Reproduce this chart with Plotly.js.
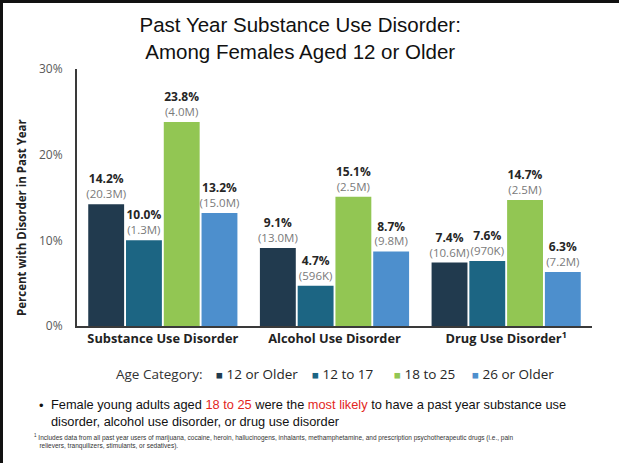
<!DOCTYPE html>
<html>
<head>
<meta charset="utf-8">
<script src="https://cdn.plot.ly/plotly-3.0.1.min.js"></script>
<style>
  html, body { margin: 0; padding: 0; background: #fff; }
  #frame { position: relative; width: 619px; height: 463px; box-sizing: border-box;
           border-top: 3px solid #111; border-left: 3px solid #111; overflow: hidden; }
  #chart { position: absolute; left: -3px; top: -3px; width: 619px; height: 463px; }
</style>
</head>
<body>
<div id="frame"><div id="chart"></div></div>
<script>
// Disorder categories along the x axis
const categories = ['Substance Use Disorder', 'Alcohol Use Disorder', 'Drug Use Disorder<sup>1</sup>'];

// Age groups (one bar series each)
const ageGroups = ['12 or Older', '12 to 17', '18 to 25', '26 or Older'];
const groupColors = ['#213a4e', '#1c6583', '#92c653', '#4d8fcd'];

// Percent with disorder in past year, per age group, per category
const pct12OrOlder = [14.2, 9.1, 7.4];
const pct12to17    = [10.0, 4.7, 7.6];
const pct18to25    = [23.8, 15.1, 14.7];
const pct26OrOlder = [13.2, 8.7, 6.3];

// Estimated number of people, per age group, per category
const count12OrOlder = ['20.3M', '13.0M', '10.6M'];
const count12to17    = ['1.3M', '596K', '970K'];
const count18to25    = ['4.0M', '2.5M', '2.5M'];
const count26OrOlder = ['15.0M', '9.8M', '7.2M'];

// Y-axis ticks
const yTickVals = [0, 10, 20, 30];
const yTickText = ['0%', '10%', '20%', '30%'];

const pctSeries = [pct12OrOlder, pct12to17, pct18to25, pct26OrOlder];
const countSeries = [count12OrOlder, count12to17, count18to25, count26OrOlder];

const FONT = 'Open Sans, Liberation Sans, sans-serif';
const SLIDE_FONT = 'Liberation Sans, Arial, sans-serif';

// plot-area box in pixels, used to place the page annotations
const M = { l: 77, r: 27, t: 69, b: 137 };
const W = 619, H = 463;
const PW = W - M.l - M.r, PH = H - M.t - M.b;
const px = x => (x - M.l) / PW;          // pixel x -> paper x
const py = y => (H - M.b - y) / PH;      // pixel y -> paper y

const traces = ageGroups.map((name, i) => ({
  type: 'bar',
  name: name,
  x: categories,
  y: pctSeries[i],
  text: pctSeries[i].map((v, j) =>
    '<b style="font-size:12px">' + v.toFixed(1) + '%</b><br><span style="color:#7a7a7a">(' + countSeries[i][j] + ')</span>'),
  textposition: 'outside',
  constraintext: 'none',
  cliponaxis: false,
  textfont: { family: FONT, size: 11.5, color: '#262626' },
  marker: { color: groupColors[i], line: { width: 0 } },
  showlegend: false,
  hoverinfo: 'skip'
}));

// Legend row: "Age Category:" followed by a coloured square per age group
const legendLeft = [214, 310, 392, 470];
const legendAnnotations = [{
  xref: 'paper', yref: 'paper', x: px(114), y: py(374), xanchor: 'left', yanchor: 'middle',
  text: 'Age Category:', showarrow: false,
  font: { family: FONT, size: 13.5, color: '#333' }
}].concat(ageGroups.map((name, i) => ({
  xref: 'paper', yref: 'paper', x: px(legendLeft[i]), y: py(374), xanchor: 'left', yanchor: 'middle',
  text: '<span style="color:' + groupColors[i] + ';font-size:11.5px">■</span> ' + name,
  showarrow: false,
  font: { family: FONT, size: 13.5, color: '#262626' }
})));

const layout = {
  width: W,
  height: H,
  margin: M,
  paper_bgcolor: '#ffffff',
  plot_bgcolor: '#ffffff',
  font: { family: FONT, color: '#262626' },
  barmode: 'group',
  bargap: 0.12,
  bargroupgap: 0.05,
  showlegend: false,
  title: {
    text: 'Past Year Substance Use Disorder:<br>Among Females Aged 12 or Older',
    font: { family: SLIDE_FONT, size: 20.5, color: '#111' },
    xref: 'container', x: 0.485, xanchor: 'center',
    yref: 'container', y: 0.931, yanchor: 'top'
  },
  xaxis: {
    showline: true, linecolor: '#3a3a3a', linewidth: 2,
    ticks: '', showgrid: false, zeroline: false,
    tickfont: { family: FONT, size: 12.8, color: '#222' },
    tickprefix: '<b>', ticksuffix: '</b>',
    fixedrange: true
  },
  yaxis: {
    range: [0, 30],
    tickvals: yTickVals, ticktext: yTickText,
    showline: true, linecolor: '#3a3a3a', linewidth: 2,
    ticks: '', showgrid: false, zeroline: false,
    ticklabelstandoff: 10,
    tickfont: { family: FONT, size: 12, color: '#595959' },
    fixedrange: true
  },
  annotations: [
    {
      xref: 'paper', yref: 'paper', x: px(22), y: py(218), xanchor: 'center', yanchor: 'middle',
      textangle: -90, showarrow: false,
      text: '<b>Percent with Disorder in Past Year</b>',
      font: { family: FONT, size: 11.5, color: '#222' }
    },
    {
      xref: 'paper', yref: 'paper', x: px(37), y: py(405), xanchor: 'left', yanchor: 'middle',
      text: '•', showarrow: false,
      font: { family: SLIDE_FONT, size: 13, color: '#111' }
    },
    {
      xref: 'paper', yref: 'paper', x: px(49), y: py(413), xanchor: 'left', yanchor: 'middle',
      align: 'left', showarrow: false,
      text: 'Female young adults aged <span style="color:#e3261d">18 to 25</span> were the ' +
            '<span style="color:#e3261d">most likely</span> to have a past year substance use<br>' +
            'disorder, alcohol use disorder, or drug use disorder',
      font: { family: SLIDE_FONT, size: 12.8, color: '#111' }
    },
    {
      xref: 'paper', yref: 'paper', x: px(32), y: py(441), xanchor: 'left', yanchor: 'middle',
      align: 'left', showarrow: false,
      text: '<sup>1</sup> Includes data from all past year users of marijuana, cocaine, heroin, hallucinogens, ' +
            'inhalants, methamphetamine, and prescription psychotherapeutic drugs (i.e., pain<br>' +
            '   relievers, tranquilizers, stimulants, or sedatives).',
      font: { family: SLIDE_FONT, size: 6.5, color: '#333' }
    }
  ].concat(legendAnnotations)
};

Plotly.newPlot('chart', traces, layout, { staticPlot: true, displayModeBar: false });
</script>
</body>
</html>
